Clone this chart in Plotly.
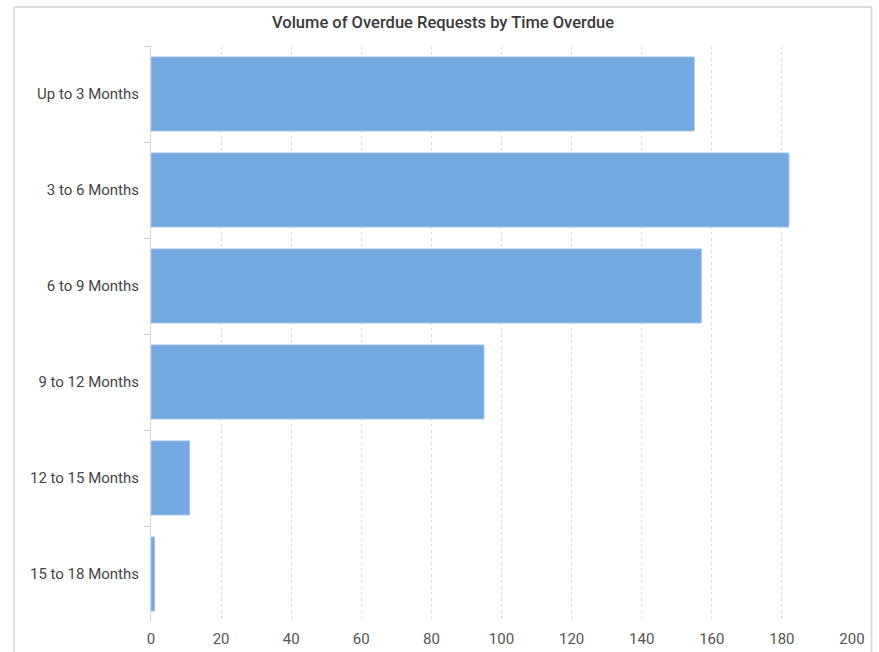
import plotly.graph_objects as go

# Overdue request counts by age bucket
categories = ["Up to 3 Months", "3 to 6 Months", "6 to 9 Months",
              "9 to 12 Months", "12 to 15 Months", "15 to 18 Months"]
counts = [155, 182, 157, 95, 11, 1]
x_ticks = [0, 20, 40, 60, 80, 100, 120, 140, 160, 180, 200]

title_text = "Volume of Overdue Requests by Time Overdue"

W, H = 879, 652
ML, MR, MT, MB = 151, 27, 46, 30
pw, ph = W - ML - MR, H - MT - MB


def px_x(px):
    return (px - ML) / pw


def px_y(py):
    return 1 - (py - MT) / ph


fig = go.Figure(
    go.Bar(
        x=counts,
        y=categories,
        orientation="h",
        marker=dict(color="#74a9e1", line=dict(color="#9cc2ea", width=1)),
        hoverinfo="x+y",
    )
)

border = dict(type="line", xref="paper", yref="paper",
              line=dict(color="#dcdcdc", width=2), layer="below")
fig.update_layout(
    width=W,
    height=H,
    margin=dict(l=ML, r=MR, t=MT, b=MB, autoexpand=False),
    paper_bgcolor="white",
    plot_bgcolor="white",
    bargap=0.23,
    showlegend=False,
    title=dict(
        text=title_text,
        x=443 / W, xref="container", xanchor="center",
        y=1 - 22 / H, yref="container", yanchor="middle",
        font=dict(family="Roboto, sans-serif",
                  size=16.5, color="#3a3a3a", weight=500),
    ),
    xaxis=dict(
        range=[0, 200],
        tickvals=x_ticks,
        showgrid=True,
        gridcolor="#dedede",
        griddash="dot",
        gridwidth=1,
        zeroline=False,
        showline=False,
        ticks="",
        automargin=False,
        ticklabelstandoff=6,
        tickfont=dict(family="Roboto, Liberation Sans, sans-serif", size=15, color="#555555"),
    ),
    yaxis=dict(
        categoryorder="array",
        categoryarray=categories,
        autorange="reversed",
        showgrid=False,
        zeroline=False,
        showline=True,
        linecolor="#d6d6d6",
        linewidth=1,
        ticks="outside",
        tickson="boundaries",
        ticklen=6,
        tickcolor="#cccccc",
        automargin=False,
        ticklabelstandoff=8,
        tickfont=dict(family="Roboto, Liberation Sans, sans-serif", size=15, color="#444444"),
    ),
    shapes=[
        dict(border, x0=px_x(14), x1=px_x(14), y0=px_y(660), y1=px_y(7)),
        dict(border, x0=px_x(14), x1=px_x(871.5), y0=px_y(7), y1=px_y(7)),
        dict(border, x0=px_x(871.5), x1=px_x(871.5), y0=px_y(7), y1=px_y(660)),
    ],
)

fig.write_html("out.html")
